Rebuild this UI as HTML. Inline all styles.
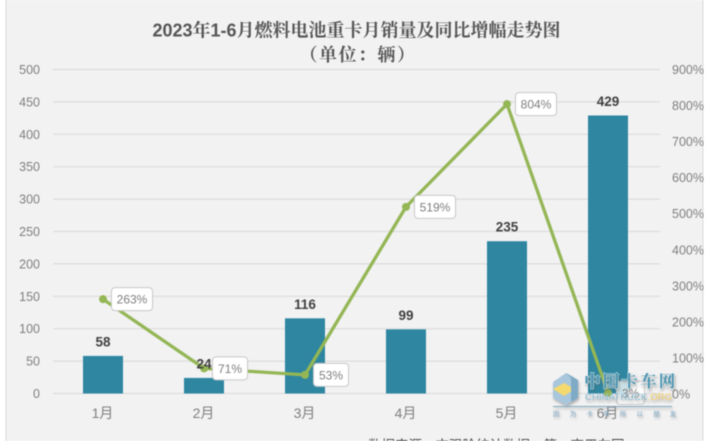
<!DOCTYPE html>
<html lang="zh">
<head>
<meta charset="utf-8">
<title>2023年1-6月燃料电池重卡月销量及同比增幅走势图</title>
<style>
html,body{margin:0;padding:0;background:#fff;width:709px;height:441px;overflow:hidden}
svg{display:block;filter:blur(0.45px)}
text{font-family:"Liberation Sans","Noto Sans CJK SC",sans-serif}
.wm-text{paint-order:stroke;stroke:rgba(255,255,255,0.55);stroke-width:1.6px}
#watermark{filter:drop-shadow(1.5px 2px 1.2px rgba(90,90,90,0.45))}
</style>
</head>
<body>
<svg id="chart" xmlns="http://www.w3.org/2000/svg" width="709" height="441" viewBox="0 0 709 441">
  <rect x="6" y="-2" width="697" height="445" fill="#f2f2f3" stroke="#d9d9d9" stroke-width="1"/>
  <text x="356.5" y="36.5" text-anchor="middle" font-size="18" font-weight="700" fill="#555" style="font-family:'Liberation Sans','Noto Serif CJK SC',serif">2023年1-6月燃料电池重卡月销量及同比增幅走势图</text>
  <text x="358" y="61" text-anchor="middle" font-size="18" font-weight="700" letter-spacing="1.5" fill="#555" style="font-family:'Liberation Sans','Noto Serif CJK SC',serif">（单位：辆）</text>
  <g id="grid"></g>
  <g id="bars"></g>
  <g id="axes"></g>
  <g id="line"></g>
  <g id="labels"></g>
  <text x="368" y="450" font-size="13.5" fill="#444">数据来源：交强险统计数据，第一商用车网</text>
  <g id="watermark">
    <polygon points="553,382 566,373 578,380 578,398 566,405 553,398" fill="#a9c7dc"/>
    <polygon points="553,389 564,383 575,389 564,396" fill="#f4d96f"/>
    <polygon points="566,373 578,380 578,398 571,402 571,378" fill="#7faac6"/>
    <text class="wm-text" x="584" y="387" font-size="16.5" font-weight="700" fill="#4a94b0" letter-spacing="2.2" style="font-family:'Liberation Serif','Noto Serif CJK SC',serif">中国卡车网</text>
    <text class="wm-text" x="585" y="400" font-size="9.5" fill="#7fb4cc" textLength="87" style="stroke-width:0.6px">CHINATRUCK<tspan fill="#eec65a">.ORG</tspan></text>
    <rect x="553" y="406" width="119" height="1" fill="#7fa9bd"/>
    <text x="553" y="416" font-size="6.5" fill="#7fa9c4" letter-spacing="10.2">因为卡车所以朋友</text>
  </g>
</svg>
<script>
var categories = ["1月", "2月", "3月", "4月", "5月", "6月"];
var salesValues = [58, 24, 116, 99, 235, 429];
var growthValues = [263, 71, 53, 519, 804, 3];
var leftTicks = [0, 50, 100, 150, 200, 250, 300, 350, 400, 450, 500];
var rightTicks = [0, 100, 200, 300, 400, 500, 600, 700, 800, 900];

var NS = "http://www.w3.org/2000/svg";
function yLeft(v) { return 393.5 - v * (324 / 500); }
function yRight(v) { return 394 - v * (324.5 / 900); }
function xCat(i) { return 103 + i * 101; }

function make(parent, tag, attrs, txt) {
  var el = document.createElementNS(NS, tag);
  for (var k in attrs) { el.setAttribute(k, attrs[k]); }
  if (txt !== undefined) { el.textContent = txt; }
  document.getElementById(parent).appendChild(el);
  return el;
}

leftTicks.forEach(function (t) {
  var g = make("grid", "line", { x1: 53, x2: 660, y1: yLeft(t), y2: yLeft(t), stroke: "#dcdcdc", "stroke-width": 1.2 });
  
  
  var l = make("axes", "text", { x: 40, y: yLeft(t) + 4.5, "text-anchor": "end", "font-size": 12.5, fill: "#7f7f7f" }, String(t));
  
  
});

rightTicks.forEach(function (t) {
  var l = make("axes", "text", { x: 672, y: yRight(t) + 4.5, "font-size": 12.5, fill: "#7f7f7f" }, t + "%");
  
  
});

categories.forEach(function (c, i) {
  var l = make("axes", "text", { x: xCat(i) - 0.5, y: 418, "text-anchor": "middle", "font-size": 14, fill: "#7f7f7f" }, c);
  
  
});

salesValues.forEach(function (v, i) {
  var b = make("bars", "rect", { x: xCat(i) - 20, y: yLeft(v), width: 40, height: yLeft(0) - yLeft(v), fill: "#2e86a1" });
  
  
  var l = make("labels", "text", { x: xCat(i), y: yLeft(v) - 9.5, "text-anchor": "middle", "font-size": 13.5, "font-weight": 700, fill: "#404040" }, String(v));
  
  
});

var pts = growthValues.map(function (v, i) { return xCat(i) + "," + yRight(v); }).join(" ");
var poly = make("line", "polyline", { points: pts, fill: "none", stroke: "#94b655", "stroke-width": 3.3, "stroke-linejoin": "round" });



growthValues.forEach(function (v, i) {
  var x = xCat(i), y = yRight(v);
  var p = make("line", "circle", { cx: x, cy: y, r: 4, fill: "#94b655" });
  
  
  var txt = v + "%";
  var w = txt.length === 4 ? 41 : (txt.length === 3 ? 35 : 28);
  var r = make("line", "rect", { x: x + 8.5, y: y - 11.5, width: w, height: 23, rx: 3.5, fill: "#fff", "fill-opacity": v < 10 ? 0.75 : 1, stroke: "#c8c8c8", "stroke-width": 1 });
  
  
  var t = make("line", "text", { x: x + 8.5 + w / 2, y: y + 4.5, "text-anchor": "middle", "font-size": 12, fill: "#7f7f7f" }, txt);
  
  
});
</script>
</body>
</html>
